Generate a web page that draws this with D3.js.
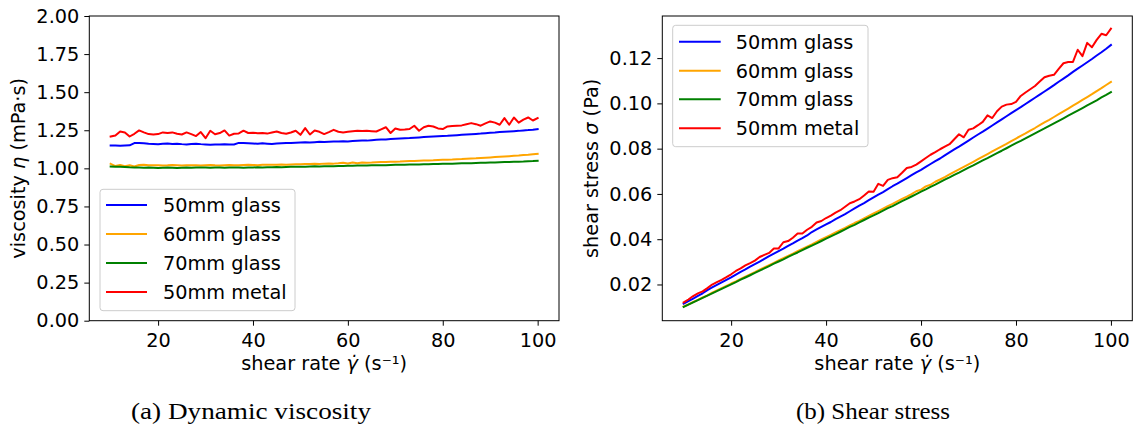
<!DOCTYPE html>
<html>
<head>
<meta charset="utf-8">
<script src="https://cdn.jsdelivr.net/npm/d3@7"></script>
<style>
  html, body { margin: 0; padding: 0; background: #fff; }
  svg { display: block; }
</style>
</head>
<body>
<svg id="chart" width="1135" height="430"></svg>
<script>
// ---------------- DATA ----------------
const shearRate = d3.range(10, 101, 1); // s^-1, 91 samples (10..100)

const seriesNames = ["50mm glass", "60mm glass", "70mm glass", "50mm metal"];
const seriesColors = ["#0000ff", "#ffa500", "#008000", "#ff0000"];

// Dynamic viscosity (mPa·s)
const viscGlass50 = [1.150,1.150,1.149,1.150,1.151,1.166,1.167,1.165,1.162,1.160,1.158,1.161,1.163,1.160,1.162,1.159,1.157,1.160,1.162,1.159,1.157,1.155,1.157,1.156,1.158,1.156,1.157,1.167,1.166,1.165,1.163,1.161,1.164,1.162,1.160,1.163,1.165,1.167,1.166,1.168,1.170,1.171,1.170,1.172,1.174,1.173,1.175,1.176,1.177,1.178,1.177,1.179,1.181,1.183,1.182,1.185,1.187,1.189,1.190,1.192,1.194,1.196,1.198,1.199,1.201,1.203,1.205,1.207,1.209,1.211,1.213,1.214,1.216,1.218,1.220,1.222,1.224,1.226,1.228,1.231,1.233,1.235,1.238,1.240,1.242,1.244,1.246,1.249,1.251,1.254,1.258];
const viscGlass60 = [1.030,1.015,1.022,1.014,1.020,1.012,1.022,1.023,1.021,1.020,1.021,1.019,1.020,1.022,1.021,1.019,1.020,1.021,1.020,1.019,1.021,1.022,1.020,1.019,1.021,1.022,1.021,1.020,1.022,1.023,1.022,1.021,1.023,1.024,1.023,1.024,1.025,1.024,1.026,1.027,1.027,1.028,1.029,1.030,1.029,1.031,1.032,1.031,1.033,1.037,1.032,1.038,1.033,1.038,1.037,1.038,1.040,1.041,1.042,1.043,1.044,1.045,1.047,1.048,1.049,1.050,1.051,1.052,1.053,1.055,1.056,1.057,1.058,1.060,1.061,1.063,1.065,1.066,1.068,1.070,1.072,1.074,1.076,1.078,1.080,1.082,1.084,1.087,1.089,1.092,1.095];
const viscGlass70 = [1.012,1.011,1.010,1.009,1.007,1.006,1.005,1.004,1.005,1.004,1.003,1.004,1.005,1.004,1.003,1.004,1.005,1.004,1.005,1.006,1.005,1.004,1.006,1.005,1.004,1.005,1.006,1.005,1.004,1.005,1.006,1.007,1.006,1.007,1.008,1.009,1.008,1.009,1.010,1.011,1.010,1.011,1.012,1.013,1.012,1.013,1.014,1.014,1.015,1.016,1.017,1.017,1.018,1.018,1.019,1.020,1.020,1.021,1.021,1.022,1.023,1.023,1.024,1.025,1.025,1.026,1.027,1.027,1.028,1.029,1.030,1.030,1.031,1.032,1.033,1.034,1.034,1.035,1.036,1.037,1.038,1.039,1.040,1.041,1.042,1.043,1.044,1.045,1.047,1.048,1.050];
const viscMetal50 = [1.209,1.215,1.242,1.236,1.209,1.227,1.249,1.236,1.225,1.222,1.225,1.236,1.232,1.236,1.227,1.222,1.236,1.225,1.212,1.238,1.198,1.247,1.224,1.232,1.249,1.215,1.227,1.229,1.247,1.232,1.234,1.230,1.232,1.228,1.235,1.242,1.232,1.227,1.235,1.247,1.220,1.264,1.222,1.249,1.240,1.225,1.238,1.253,1.240,1.236,1.240,1.244,1.247,1.245,1.246,1.244,1.242,1.256,1.270,1.232,1.262,1.253,1.255,1.258,1.280,1.247,1.270,1.280,1.275,1.262,1.258,1.275,1.278,1.280,1.282,1.290,1.297,1.290,1.280,1.295,1.308,1.300,1.286,1.330,1.286,1.334,1.300,1.320,1.334,1.314,1.330];

// Shear stress (Pa)
const stressGlass50 = [0.01150,0.01265,0.01379,0.01495,0.01611,0.01749,0.01867,0.01981,0.02092,0.02204,0.02316,0.02438,0.02559,0.02668,0.02789,0.02898,0.03008,0.03132,0.03254,0.03361,0.03471,0.03581,0.03702,0.03815,0.03937,0.04046,0.04165,0.04318,0.04431,0.04544,0.04652,0.04760,0.04889,0.04997,0.05104,0.05234,0.05359,0.05485,0.05597,0.05723,0.05850,0.05972,0.06084,0.06212,0.06340,0.06452,0.06580,0.06703,0.06827,0.06950,0.07062,0.07192,0.07322,0.07453,0.07565,0.07703,0.07834,0.07966,0.08092,0.08225,0.08358,0.08492,0.08626,0.08753,0.08887,0.09023,0.09158,0.09294,0.09430,0.09567,0.09704,0.09833,0.09971,0.10109,0.10248,0.10387,0.10526,0.10666,0.10806,0.10956,0.11097,0.11239,0.11390,0.11532,0.11675,0.11818,0.11962,0.12115,0.12260,0.12415,0.12580];
const stressGlass60 = [0.01030,0.01117,0.01226,0.01318,0.01428,0.01518,0.01635,0.01739,0.01838,0.01938,0.02042,0.02140,0.02244,0.02351,0.02450,0.02548,0.02652,0.02757,0.02856,0.02955,0.03063,0.03168,0.03264,0.03363,0.03471,0.03577,0.03676,0.03774,0.03884,0.03990,0.04088,0.04186,0.04297,0.04403,0.04501,0.04608,0.04715,0.04813,0.04925,0.05032,0.05135,0.05243,0.05351,0.05459,0.05557,0.05671,0.05779,0.05877,0.05991,0.06118,0.06192,0.06332,0.06405,0.06539,0.06637,0.06747,0.06864,0.06975,0.07086,0.07197,0.07308,0.07420,0.07538,0.07650,0.07763,0.07875,0.07988,0.08100,0.08213,0.08335,0.08448,0.08562,0.08676,0.08798,0.08912,0.09036,0.09159,0.09274,0.09398,0.09523,0.09648,0.09773,0.09899,0.10025,0.10152,0.10279,0.10406,0.10544,0.10672,0.10811,0.10950];
const stressGlass70 = [0.01012,0.01112,0.01212,0.01312,0.01410,0.01509,0.01608,0.01707,0.01809,0.01908,0.02006,0.02108,0.02211,0.02309,0.02407,0.02510,0.02613,0.02711,0.02814,0.02917,0.03015,0.03112,0.03219,0.03317,0.03414,0.03518,0.03622,0.03719,0.03815,0.03920,0.04024,0.04129,0.04225,0.04330,0.04435,0.04541,0.04637,0.04742,0.04848,0.04954,0.05050,0.05156,0.05262,0.05369,0.05465,0.05572,0.05678,0.05780,0.05887,0.05994,0.06102,0.06204,0.06312,0.06413,0.06522,0.06630,0.06732,0.06841,0.06943,0.07052,0.07161,0.07263,0.07373,0.07483,0.07585,0.07695,0.07805,0.07908,0.08018,0.08129,0.08240,0.08343,0.08454,0.08566,0.08677,0.08789,0.08892,0.09005,0.09117,0.09229,0.09342,0.09455,0.09568,0.09681,0.09795,0.09908,0.10022,0.10137,0.10261,0.10375,0.10500];
const stressMetal50 = [0.01209,0.01337,0.01490,0.01607,0.01693,0.01841,0.01998,0.02101,0.02205,0.02322,0.02450,0.02596,0.02710,0.02843,0.02945,0.03055,0.03214,0.03308,0.03394,0.03590,0.03594,0.03866,0.03917,0.04066,0.04247,0.04253,0.04417,0.04547,0.04739,0.04805,0.04936,0.05043,0.05174,0.05280,0.05434,0.05589,0.05667,0.05767,0.05928,0.06110,0.06100,0.06446,0.06354,0.06620,0.06696,0.06738,0.06933,0.07142,0.07192,0.07292,0.07440,0.07588,0.07731,0.07844,0.07974,0.08086,0.08197,0.08415,0.08636,0.08501,0.08834,0.08896,0.09036,0.09183,0.09472,0.09353,0.09652,0.09856,0.09945,0.09970,0.10064,0.10328,0.10480,0.10624,0.10769,0.10965,0.11154,0.11223,0.11264,0.11526,0.11772,0.11830,0.11831,0.12369,0.12088,0.12673,0.12480,0.12804,0.13073,0.13009,0.13300];

const viscSeries = [viscGlass50, viscGlass60, viscGlass70, viscMetal50];
const stressSeries = [stressGlass50, stressGlass60, stressGlass70, stressMetal50];

const xTicks = [20, 40, 60, 80, 100];
const viscTicks = [0, 0.25, 0.5, 0.75, 1.0, 1.25, 1.5, 1.75, 2.0];
const stressTicks = [0.02, 0.04, 0.06, 0.08, 0.10, 0.12];

const captions = ["(a) Dynamic viscosity", "(b) Shear stress"];

// ---------------- DRAW ----------------
const svg = d3.select("#chart");
const FONT = "'DejaVu Sans', sans-serif";
const FS = "19.3px";

function panel(opts) {
  const { left, right, top, bottom, yDomain, yTicks, series, yLabel, yLabelX, legend } = opts;
  const x = d3.scaleLinear().domain([5.5, 104.5]).range([left, right]);
  const y = d3.scaleLinear().domain(yDomain).range([bottom, top]);
  const g = svg.append("g");

  // lines
  const line = d3.line().x((d, i) => x(shearRate[i])).y(d => y(d));
  series.forEach((s, k) => {
    g.append("path").datum(s)
      .attr("fill", "none")
      .attr("stroke", seriesColors[k])
      .attr("stroke-width", 2)
      .attr("stroke-linejoin", "round")
      .attr("stroke-linecap", "square")
      .attr("d", line);
  });

  // axes
  const xAxis = d3.axisBottom(x).tickValues(xTicks).tickFormat(d3.format("d")).tickSize(5).tickPadding(7.5);
  const gx = g.append("g").attr("transform", `translate(0,${bottom})`).call(xAxis);
  const yAxis = d3.axisLeft(y).tickValues(yTicks).tickFormat(d3.format(".2f")).tickSize(5).tickPadding(5);
  const gy = g.append("g").attr("transform", `translate(${left},0)`).call(yAxis);
  [gx, gy].forEach(a => {
    a.select(".domain").remove();
    a.selectAll(".tick line").attr("stroke", "#000").attr("stroke-width", 1);
    a.selectAll(".tick text").attr("fill", "#000").style("font-family", FONT).style("font-size", FS);
  });

  // spines
  g.append("rect")
    .attr("x", left).attr("y", top)
    .attr("width", right - left).attr("height", bottom - top)
    .attr("fill", "none").attr("stroke", "#000").attr("stroke-width", 1);

  // x label
  const xl = g.append("text")
    .attr("x", (left + right) / 2).attr("y", 370)
    .attr("text-anchor", "middle")
    .style("font-family", FONT).style("font-size", FS);
  xl.append("tspan").text("shear rate ");
  xl.append("tspan").style("font-style", "italic").text("γ̇");
  xl.append("tspan").text(" (s⁻¹)");

  // y label
  const yl = g.append("text")
    .attr("transform", `translate(${yLabelX},${(top + bottom) / 2}) rotate(-90)`)
    .attr("text-anchor", "middle")
    .style("font-family", FONT).style("font-size", FS);
  yLabel.forEach(part => {
    yl.append("tspan").style("font-style", part.italic ? "italic" : "normal").text(part.t);
  });

  // legend
  const lg = g.append("g");
  lg.append("rect")
    .attr("x", legend.x0).attr("y", legend.y0)
    .attr("width", legend.x1 - legend.x0).attr("height", legend.y1 - legend.y0)
    .attr("rx", 3).attr("ry", 3)
    .attr("fill", "#fff").attr("fill-opacity", 0.8)
    .attr("stroke", "#cccccc").attr("stroke-width", 1);
  seriesNames.forEach((name, k) => {
    const cy = legend.rowY[k];
    lg.append("line")
      .attr("x1", legend.lx0).attr("x2", legend.lx1)
      .attr("y1", cy).attr("y2", cy)
      .attr("stroke", seriesColors[k]).attr("stroke-width", 2);
    lg.append("text")
      .attr("x", legend.tx).attr("y", cy + 7)
      .style("font-family", FONT).style("font-size", FS)
      .text(name);
  });
}

panel({
  left: 89.3, right: 559, top: 16, bottom: 320.7,
  yDomain: [0, 2], yTicks: viscTicks, series: viscSeries,
  yLabel: [{t: "viscosity "}, {t: "η", italic: true}, {t: " (mPa·s)"}],
  yLabelX: 25,
  legend: { x0: 100, x1: 295, y0: 189.3, y1: 310.7, lx0: 106, lx1: 147, tx: 163, rowY: [205, 234, 263, 292] }
});

panel({
  left: 662.3, right: 1132.3, top: 16, bottom: 320.7,
  yDomain: [0.0040, 0.1386], yTicks: stressTicks, series: stressSeries,
  yLabel: [{t: "shear stress "}, {t: "σ", italic: true}, {t: " (Pa)"}],
  yLabelX: 598,
  legend: { x0: 672.7, x1: 868, y0: 25.3, y1: 146.7, lx0: 679, lx1: 720.7, tx: 735.7, rowY: [41.7, 70.7, 99.3, 128.3] }
});

// captions
const capPos = [{x: 131, w: 240}, {x: 796, w: 154}];
captions.forEach((c, i) => {
  svg.append("text")
    .attr("x", capPos[i].x).attr("y", 419)
    .attr("textLength", capPos[i].w).attr("lengthAdjust", "spacingAndGlyphs")
    .style("font-family", "'Liberation Serif', 'DejaVu Serif', serif")
    .style("font-size", "23px")
    .text(c);
});
</script>
</body>
</html>
